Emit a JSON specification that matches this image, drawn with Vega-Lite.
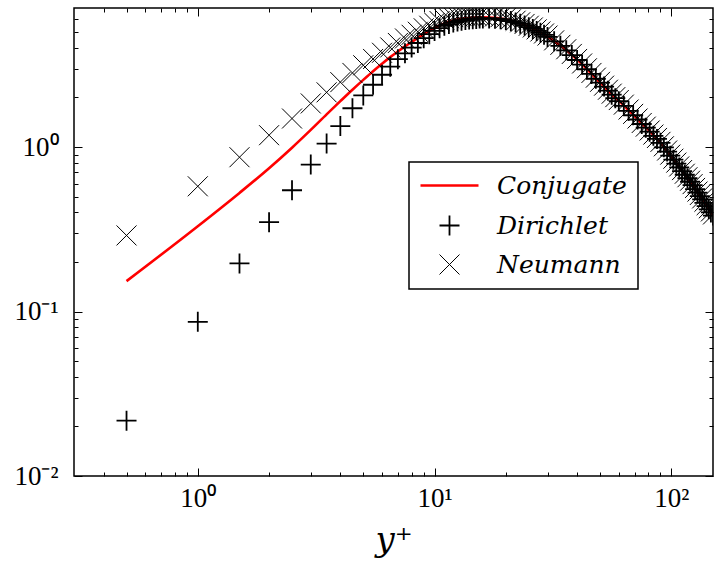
{
  "$schema": "https://vega.github.io/schema/vega-lite/v6.json",
  "width": 639,
  "height": 468,
  "autosize": {"type": "none"},
  "padding": {"left": 74, "top": 8, "right": 1, "bottom": 87},
  "background": "white",
  "config": {
    "view": {"stroke": "black", "strokeWidth": 1.5},
    "axis": {"grid": false, "domain": false, "tickColor": "black", "tickWidth": 1, "labelFont": "Liberation Serif", "labelFontSize": 27, "labelColor": "black", "titleColor": "black", "labelFlush": false},
    "legend": {"strokeColor": "black", "fillColor": "white", "strokeWidth": 1.5, "cornerRadius": 0}
  },
  "data": {"values": [
    {"yp": 0.5, "Conjugate": 0.153, "Neumann": 0.29, "Dirichlet": 0.0217},
    {"yp": 1, "Conjugate": 0.33, "Neumann": 0.577, "Dirichlet": 0.0866},
    {"yp": 1.5, "Conjugate": 0.526, "Neumann": 0.867, "Dirichlet": 0.196},
    {"yp": 2, "Conjugate": 0.743, "Neumann": 1.18, "Dirichlet": 0.349},
    {"yp": 2.5, "Conjugate": 0.99, "Neumann": 1.49, "Dirichlet": 0.546},
    {"yp": 3, "Conjugate": 1.27, "Neumann": 1.84, "Dirichlet": 0.782},
    {"yp": 3.5, "Conjugate": 1.58, "Neumann": 2.15, "Dirichlet": 1.05},
    {"yp": 4, "Conjugate": 1.9, "Neumann": 2.48, "Dirichlet": 1.34},
    {"yp": 4.5, "Conjugate": 2.23, "Neumann": 2.82, "Dirichlet": 1.72},
    {"yp": 5, "Conjugate": 2.56, "Neumann": 3.14, "Dirichlet": 2.06},
    {"yp": 5.5, "Conjugate": 2.89, "Neumann": 3.43, "Dirichlet": 2.39},
    {"yp": 6, "Conjugate": 3.21, "Neumann": 3.74, "Dirichlet": 2.75},
    {"yp": 6.5, "Conjugate": 3.52, "Neumann": 4.03, "Dirichlet": 3.08},
    {"yp": 7, "Conjugate": 3.81, "Neumann": 4.29, "Dirichlet": 3.42},
    {"yp": 7.5, "Conjugate": 4.09, "Neumann": 4.57, "Dirichlet": 3.71},
    {"yp": 8, "Conjugate": 4.35, "Neumann": 4.81, "Dirichlet": 4.02},
    {"yp": 8.5, "Conjugate": 4.61, "Neumann": 5.02, "Dirichlet": 4.29},
    {"yp": 9, "Conjugate": 4.85, "Neumann": 5.27, "Dirichlet": 4.59},
    {"yp": 9.5, "Conjugate": 5.08, "Neumann": 5.46, "Dirichlet": 4.85},
    {"yp": 10, "Conjugate": 5.29, "Neumann": 5.67, "Dirichlet": 5.08},
    {"yp": 10.5, "Conjugate": 5.48, "Neumann": 5.83, "Dirichlet": 5.28},
    {"yp": 11, "Conjugate": 5.64, "Neumann": 5.97, "Dirichlet": 5.46},
    {"yp": 11.5, "Conjugate": 5.77, "Neumann": 6.07, "Dirichlet": 5.59},
    {"yp": 12, "Conjugate": 5.88, "Neumann": 6.16, "Dirichlet": 5.71},
    {"yp": 12.5, "Conjugate": 5.96, "Neumann": 6.22, "Dirichlet": 5.79},
    {"yp": 13, "Conjugate": 6.02, "Neumann": 6.25, "Dirichlet": 5.86},
    {"yp": 13.5, "Conjugate": 6.06, "Neumann": 6.28, "Dirichlet": 5.91},
    {"yp": 14, "Conjugate": 6.09, "Neumann": 6.29, "Dirichlet": 5.96},
    {"yp": 14.5, "Conjugate": 6.11, "Neumann": 6.31, "Dirichlet": 5.99},
    {"yp": 15, "Conjugate": 6.13, "Neumann": 6.3, "Dirichlet": 6.01},
    {"yp": 15.5, "Conjugate": 6.14, "Neumann": 6.31, "Dirichlet": 6.04},
    {"yp": 16, "Conjugate": 6.14, "Neumann": 6.29, "Dirichlet": 6.05},
    {"yp": 17, "Conjugate": 6.13, "Neumann": 6.25, "Dirichlet": 6.05},
    {"yp": 18, "Conjugate": 6.1, "Neumann": 6.22, "Dirichlet": 6.03},
    {"yp": 19, "Conjugate": 6.04, "Neumann": 6.16, "Dirichlet": 5.98},
    {"yp": 20, "Conjugate": 5.97, "Neumann": 6.09, "Dirichlet": 5.91},
    {"yp": 21, "Conjugate": 5.88, "Neumann": 5.97, "Dirichlet": 5.83},
    {"yp": 22, "Conjugate": 5.77, "Neumann": 5.86, "Dirichlet": 5.72},
    {"yp": 23, "Conjugate": 5.65, "Neumann": 5.73, "Dirichlet": 5.61},
    {"yp": 24, "Conjugate": 5.52, "Neumann": 5.6, "Dirichlet": 5.48},
    {"yp": 25, "Conjugate": 5.38, "Neumann": 5.46, "Dirichlet": 5.35},
    {"yp": 26, "Conjugate": 5.25, "Neumann": 5.33, "Dirichlet": 5.22},
    {"yp": 27, "Conjugate": 5.11, "Neumann": 5.19, "Dirichlet": 5.08},
    {"yp": 28, "Conjugate": 4.97, "Neumann": 5.04, "Dirichlet": 4.95},
    {"yp": 29, "Conjugate": 4.83, "Neumann": 4.9, "Dirichlet": 4.81},
    {"yp": 30, "Conjugate": 4.69, "Neumann": 4.76, "Dirichlet": 4.67},
    {"yp": 32, "Conjugate": 4.41, "Neumann": 4.45, "Dirichlet": 4.39},
    {"yp": 34, "Conjugate": 4.14, "Neumann": 4.18, "Dirichlet": 4.12},
    {"yp": 36, "Conjugate": 3.89, "Neumann": 3.93, "Dirichlet": 3.87},
    {"yp": 38, "Conjugate": 3.64, "Neumann": 3.68, "Dirichlet": 3.62},
    {"yp": 40, "Conjugate": 3.4, "Neumann": 3.43, "Dirichlet": 3.38},
    {"yp": 42, "Conjugate": 3.19, "Neumann": 3.22, "Dirichlet": 3.17},
    {"yp": 44, "Conjugate": 2.98, "Neumann": 3.01, "Dirichlet": 2.97},
    {"yp": 46, "Conjugate": 2.79, "Neumann": 2.82, "Dirichlet": 2.78},
    {"yp": 48, "Conjugate": 2.61, "Neumann": 2.64, "Dirichlet": 2.6},
    {"yp": 50, "Conjugate": 2.47, "Neumann": 2.49, "Dirichlet": 2.46},
    {"yp": 52, "Conjugate": 2.34, "Neumann": 2.36, "Dirichlet": 2.33},
    {"yp": 54, "Conjugate": 2.21, "Neumann": 2.23, "Dirichlet": 2.2},
    {"yp": 56, "Conjugate": 2.09, "Neumann": 2.11, "Dirichlet": 2.08},
    {"yp": 58, "Conjugate": 1.99, "Neumann": 2.01, "Dirichlet": 1.98},
    {"yp": 60, "Conjugate": 1.91, "Neumann": 1.93, "Dirichlet": 1.9},
    {"yp": 63, "Conjugate": 1.79, "Neumann": 1.81, "Dirichlet": 1.78},
    {"yp": 66, "Conjugate": 1.67, "Neumann": 1.69, "Dirichlet": 1.66},
    {"yp": 69, "Conjugate": 1.57, "Neumann": 1.59, "Dirichlet": 1.56},
    {"yp": 72, "Conjugate": 1.48, "Neumann": 1.49, "Dirichlet": 1.47},
    {"yp": 75, "Conjugate": 1.39, "Neumann": 1.4, "Dirichlet": 1.38},
    {"yp": 78, "Conjugate": 1.32, "Neumann": 1.33, "Dirichlet": 1.31},
    {"yp": 81, "Conjugate": 1.25, "Neumann": 1.26, "Dirichlet": 1.24},
    {"yp": 84, "Conjugate": 1.18, "Neumann": 1.19, "Dirichlet": 1.17},
    {"yp": 87, "Conjugate": 1.125, "Neumann": 1.135, "Dirichlet": 1.12},
    {"yp": 90, "Conjugate": 1.065, "Neumann": 1.075, "Dirichlet": 1.06},
    {"yp": 93, "Conjugate": 1.0, "Neumann": 1.01, "Dirichlet": 0.995},
    {"yp": 96, "Conjugate": 0.943, "Neumann": 0.952, "Dirichlet": 0.938},
    {"yp": 99, "Conjugate": 0.89, "Neumann": 0.899, "Dirichlet": 0.886},
    {"yp": 102, "Conjugate": 0.841, "Neumann": 0.849, "Dirichlet": 0.837},
    {"yp": 105, "Conjugate": 0.796, "Neumann": 0.804, "Dirichlet": 0.792},
    {"yp": 108, "Conjugate": 0.755, "Neumann": 0.762, "Dirichlet": 0.751},
    {"yp": 111, "Conjugate": 0.717, "Neumann": 0.724, "Dirichlet": 0.713},
    {"yp": 114, "Conjugate": 0.681, "Neumann": 0.688, "Dirichlet": 0.678},
    {"yp": 117, "Conjugate": 0.649, "Neumann": 0.655, "Dirichlet": 0.646},
    {"yp": 120, "Conjugate": 0.618, "Neumann": 0.624, "Dirichlet": 0.615},
    {"yp": 123, "Conjugate": 0.589, "Neumann": 0.595, "Dirichlet": 0.586},
    {"yp": 126, "Conjugate": 0.558, "Neumann": 0.564, "Dirichlet": 0.555},
    {"yp": 129, "Conjugate": 0.531, "Neumann": 0.536, "Dirichlet": 0.528},
    {"yp": 132, "Conjugate": 0.506, "Neumann": 0.511, "Dirichlet": 0.503},
    {"yp": 135, "Conjugate": 0.482, "Neumann": 0.487, "Dirichlet": 0.48},
    {"yp": 138, "Conjugate": 0.46, "Neumann": 0.465, "Dirichlet": 0.458},
    {"yp": 141, "Conjugate": 0.439, "Neumann": 0.443, "Dirichlet": 0.437},
    {"yp": 144, "Conjugate": 0.42, "Neumann": 0.424, "Dirichlet": 0.418},
    {"yp": 147, "Conjugate": 0.402, "Neumann": 0.406, "Dirichlet": 0.4},
    {"yp": 150, "Conjugate": 0.385, "Neumann": 0.389, "Dirichlet": 0.383}
  ]},
  "transform": [{"fold": ["Conjugate", "Dirichlet", "Neumann"], "as": ["series", "value"]}],
  "resolve": {"axis": {"x": "independent", "y": "independent"}},
  "layer": [
    {
      "transform": [{"filter": "datum.series === 'Conjugate'"}],
      "mark": {"type": "line", "clip": true, "interpolate": "monotone", "opacity": 1},
      "encoding": {
        "x": {"field": "yp", "type": "quantitative", "scale": {"type": "log", "domain": [0.3, 150], "nice": false},
          "axis": {"orient": "bottom", "values": [1, 10, 100], "tickSize": -8, "labelPadding": 17,
            "labelExpr": "datum.value < 5 ? '10⁰' : datum.value < 50 ? '10¹' : '10²'",
            "title": "y⁺", "titleFont": "DejaVu Serif", "titleFontStyle": "italic", "titleFontWeight": "normal", "titleFontSize": 34, "titlePadding": 12}},
        "y": {"field": "value", "type": "quantitative", "scale": {"type": "log", "domain": [0.01, 7], "nice": false},
          "axis": {"orient": "left", "values": [0.01, 0.1, 1], "tickSize": -8, "labelPadding": 24,
            "labelExpr": "datum.value < 0.05 ? '10⁻²' : datum.value < 0.5 ? '10⁻¹' : '10⁰'", "title": null}},
        "color": {"field": "series", "type": "nominal",
          "scale": {"domain": ["Conjugate", "Dirichlet", "Neumann"], "range": ["#ff0000", "black", "black"]},
          "legend": {"title": null, "orient": "none", "legendX": 335, "legendY": 154, "padding": 11, "symbolOffset": 17, "labelOffset": 35,
            "labelFont": "DejaVu Serif", "labelFontStyle": "italic", "labelFontSize": 25, "labelColor": "black", "symbolSize": 400, "rowPadding": 12, "symbolOpacity": 1}},
        "strokeWidth": {"field": "series", "type": "nominal",
          "scale": {"domain": ["Conjugate", "Dirichlet", "Neumann"], "range": [2.6, 1, 1]},
          "legend": {"title": null, "orient": "none", "legendX": 335, "legendY": 154, "padding": 11, "symbolOffset": 17, "labelOffset": 35,
            "labelFont": "DejaVu Serif", "labelFontStyle": "italic", "labelFontSize": 25, "labelColor": "black", "symbolSize": 400, "rowPadding": 12, "symbolOpacity": 1}}
      }
    },
    {
      "transform": [{"filter": "datum.series !== 'Conjugate'"}],
      "mark": {"type": "point", "filled": false, "size": 400, "clip": true, "opacity": 1},
      "encoding": {
        "x": {"field": "yp", "type": "quantitative",
          "axis": {"orient": "bottom", "values": [0.4, 0.5, 0.6, 0.7, 0.8, 0.9, 2, 3, 4, 5, 6, 7, 8, 9, 20, 30, 40, 50, 60, 70, 80, 90], "tickSize": -4, "labels": false, "title": null}},
        "y": {"field": "value", "type": "quantitative",
          "axis": {"orient": "left", "values": [0.02, 0.03, 0.04, 0.05, 0.06, 0.07, 0.08, 0.09, 0.2, 0.3, 0.4, 0.5, 0.6, 0.7, 0.8, 0.9, 2, 3, 4, 5, 6], "tickSize": -4, "labels": false, "title": null}},
        "color": {"field": "series", "type": "nominal",
          "scale": {"domain": ["Conjugate", "Dirichlet", "Neumann"], "range": ["#ff0000", "black", "black"]},
          "legend": {"title": null, "orient": "none", "legendX": 335, "legendY": 154, "padding": 11, "symbolOffset": 17, "labelOffset": 35,
            "labelFont": "DejaVu Serif", "labelFontStyle": "italic", "labelFontSize": 25, "labelColor": "black", "symbolSize": 400, "rowPadding": 12, "symbolOpacity": 1}},
        "shape": {"field": "series", "type": "nominal",
          "scale": {"domain": ["Conjugate", "Dirichlet", "Neumann"], "range": ["M-2.9,0H2.9", "M-1,0H1M0,-1V1", "M-1,-1L1,1M-1,1L1,-1"]},
          "legend": {"title": null, "orient": "none", "legendX": 335, "legendY": 154, "padding": 11, "symbolOffset": 17, "labelOffset": 35,
            "labelFont": "DejaVu Serif", "labelFontStyle": "italic", "labelFontSize": 25, "labelColor": "black", "symbolSize": 400, "rowPadding": 12, "symbolOpacity": 1}},
        "strokeWidth": {"field": "series", "type": "nominal",
          "scale": {"domain": ["Conjugate", "Dirichlet", "Neumann"], "range": [2.6, 1, 1]},
          "legend": {"title": null, "orient": "none", "legendX": 335, "legendY": 154, "padding": 11, "symbolOffset": 17, "labelOffset": 35,
            "labelFont": "DejaVu Serif", "labelFontStyle": "italic", "labelFontSize": 25, "labelColor": "black", "symbolSize": 400, "rowPadding": 12, "symbolOpacity": 1}}
      }
    },
    {
      "transform": [{"filter": "datum.series === 'Conjugate'"}],
      "mark": {"type": "point", "opacity": 0},
      "encoding": {
        "x": {"field": "yp", "type": "quantitative",
          "axis": {"orient": "top", "values": [1, 10, 100], "tickSize": -8, "labels": false, "title": null}},
        "y": {"field": "value", "type": "quantitative",
          "axis": {"orient": "right", "values": [0.01, 0.1, 1], "tickSize": -8, "labels": false, "title": null}}
      }
    },
    {
      "transform": [{"filter": "datum.series === 'Conjugate'"}],
      "mark": {"type": "point", "opacity": 0},
      "encoding": {
        "x": {"field": "yp", "type": "quantitative",
          "axis": {"orient": "top", "values": [0.4, 0.5, 0.6, 0.7, 0.8, 0.9, 2, 3, 4, 5, 6, 7, 8, 9, 20, 30, 40, 50, 60, 70, 80, 90], "tickSize": -4, "labels": false, "title": null}},
        "y": {"field": "value", "type": "quantitative",
          "axis": {"orient": "right", "values": [0.02, 0.03, 0.04, 0.05, 0.06, 0.07, 0.08, 0.09, 0.2, 0.3, 0.4, 0.5, 0.6, 0.7, 0.8, 0.9, 2, 3, 4, 5, 6], "tickSize": -4, "labels": false, "title": null}}
      }
    }
  ]
}
